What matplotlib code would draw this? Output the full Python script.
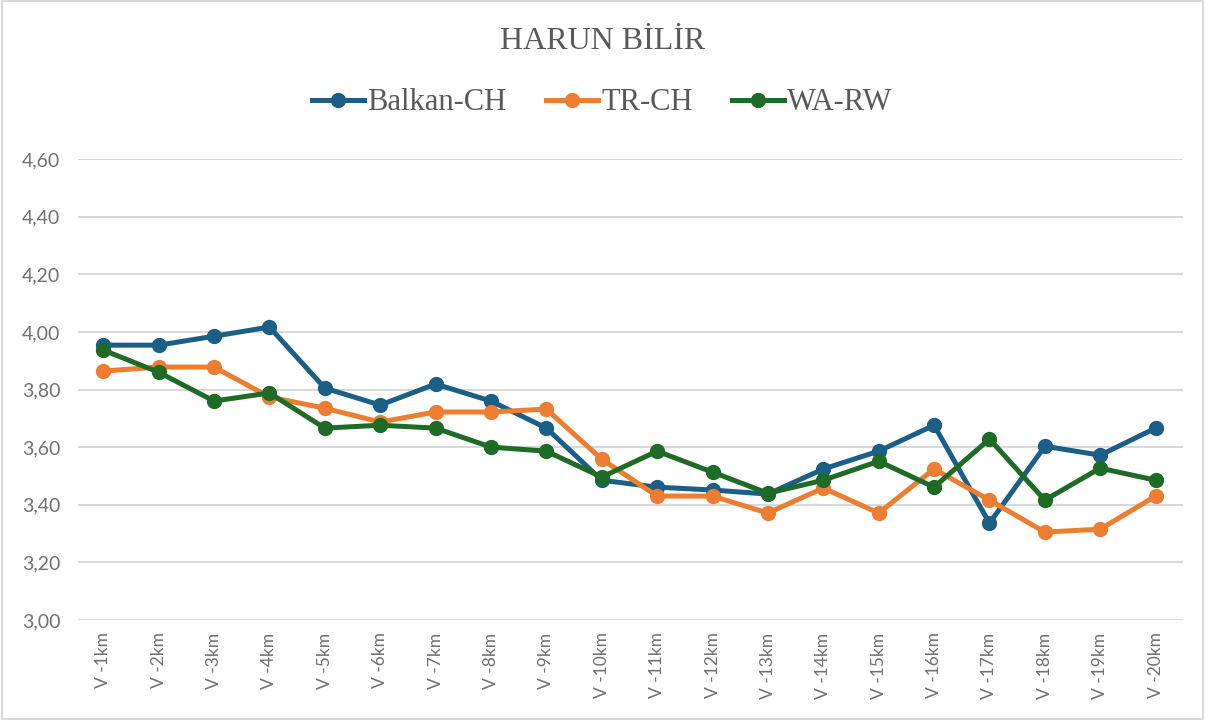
import numpy as np
import matplotlib
matplotlib.use('Agg')
import matplotlib.pyplot as plt
from matplotlib.ticker import FuncFormatter, MultipleLocator

# data
categories = ['V -%dkm' % i for i in range(1, 21)]
balkan_ch = [3.954, 3.954, 3.985, 4.017, 3.805, 3.746, 3.819, 3.760, 3.666, 3.485,
             3.461, 3.451, 3.437, 3.524, 3.586, 3.676, 3.336, 3.603, 3.572, 3.666]
tr_ch = [3.864, 3.878, 3.878, 3.774, 3.735, 3.687, 3.722, 3.722, 3.732, 3.558,
         3.430, 3.430, 3.371, 3.458, 3.371, 3.524, 3.416, 3.305, 3.315, 3.430]
wa_rw = [3.937, 3.860, 3.760, 3.788, 3.666, 3.676, 3.666, 3.600, 3.586, 3.496,
         3.586, 3.513, 3.440, 3.485, 3.551, 3.461, 3.628, 3.416, 3.527, 3.485]

series = [('Balkan-CH', balkan_ch, '#1B5E86'),
          ('TR-CH', tr_ch, '#ED7D31'),
          ('WA-RW', wa_rw, '#1E6B26')]

plt.rcParams['font.family'] = ['Liberation Serif', 'DejaVu Serif']
txt = '#595959'

fig = plt.figure(figsize=(12.05, 7.2), dpi=100)
ax = fig.add_axes([0.065, 0.139, 0.917, 0.640])

x = np.arange(len(categories))
for name, vals, col in series:
    ax.plot(x, vals, color=col, lw=3.6, marker='o', ms=10, label=name,
            solid_joinstyle='round', zorder=3)

ax.set_ylim(3.0, 4.6)
ax.set_xlim(-0.45, len(categories) - 0.5)
ax.yaxis.set_major_locator(MultipleLocator(0.2))
ax.yaxis.set_major_formatter(FuncFormatter(lambda v, p: ('%.2f' % v).replace('.', ',')))
ax.set_xticks(x)
ax.set_xticklabels(categories, rotation=90)
ax.tick_params(length=0, colors='#707070')
ax.tick_params(axis='y', pad=13)
ax.tick_params(axis='x', pad=9)
for lab in ax.get_yticklabels():
    lab.set_family(['Lato', 'DejaVu Sans'])
    lab.set_fontsize(14)
for lab in ax.get_xticklabels():
    lab.set_family(['Lato', 'DejaVu Sans'])
    lab.set_fontsize(12.5)
ax.grid(axis='y', color='#d9d9d9', lw=1.5, zorder=0)
for s in ax.spines.values():
    s.set_visible(False)

fig.text(0.5, 0.943, 'HARUN BİLİR', ha='center', va='center', fontsize=23, color=txt)
fig.legend(loc='center', bbox_to_anchor=(0.5, 0.857), ncol=3, frameon=False,
           fontsize=22, labelcolor=txt, handlelength=1.7, handletextpad=0.1,
           columnspacing=1.3)

# light frame around the chart
fig.patches.append(plt.Rectangle((0.002, 0.002), 0.996, 0.996, transform=fig.transFigure,
                                 fill=False, edgecolor='#d9d9d9', lw=1.5))

fig.savefig('out.png', dpi=100)
